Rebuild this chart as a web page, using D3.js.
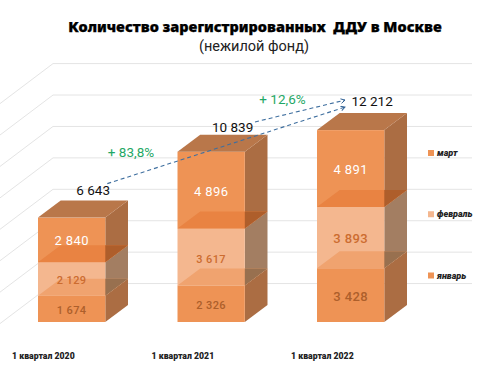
<!DOCTYPE html>
<html>
<head>
<meta charset="utf-8">
<script src="https://cdn.jsdelivr.net/npm/d3@7"></script>
<style>
  html, body { margin: 0; padding: 0; background: #fff; }
  svg { display: block; font-family: Roboto, sans-serif; }
</style>
</head>
<body>
<div id="chart"></div>
<script>
const quarters = ['1 квартал 2020', '1 квартал 2021', '1 квартал 2022'];
const months = ['январь', 'февраль', 'март'];
const january = [1674, 2326, 3428];
const february = [2129, 3617, 3893];
const march = [2840, 4896, 4891];
const totals = [6643, 10839, 12212];
const totalLabels = ['6 643', '10 839', '12 212'];
const gridTicks = [2000, 4000, 6000, 8000, 10000, 12000, 14000, 16000];
const growthLabels = ['+ 83,8%', '+ 12,6%'];

const width = 480;
const height = 369;
const depthX = 22.7;
const depthY = 17;

const colors = { 'январь': '#ee9355', 'февраль': '#f4b78f', 'март': '#ee9355' };
const topColors = { 'январь': '#f0a36f', 'февраль': '#e98342', 'март': '#b9774a' };
const sideColors = { 'январь': '#ab6d43', 'февраль': '#a37e62', 'март': '#ab6d43' };
const labelColors = { 'январь': '#ad5f2b', 'февраль': '#cc6c30', 'март': '#fff' };

const svg = d3.select('#chart').append('svg')
    .attr('width', width)
    .attr('height', height);

// bars sit on y=322, the back wall grid is drawn a bit higher up
const y = d3.scaleLinear().domain([0, 16000]).range([322, 70.6]);
const gridY = d3.scaleLinear().domain([0, 16000]).range([315, 63.6]);
const x = d3.scaleBand().domain(quarters).range([38, 384.3]).paddingInner(0.5176).paddingOuter(0);

const line = d3.line();

// grid
const wallX = 53;
const grid = svg.append('g').attr('fill', 'none').attr('stroke', '#e4e4e4').attr('stroke-width', 1);
grid.selectAll('path.back').data(gridTicks).enter().append('path')
    .attr('class', 'back')
    .attr('d', d => line([[wallX, gridY(d)], [472, gridY(d)]]));
grid.selectAll('path.wall').data(gridTicks).enter().append('path')
    .attr('class', 'wall')
    .attr('d', d => line([[wallX, gridY(d)], [0, gridY(d) + 40]]));

// bars
const stack = d3.stack().keys(months).value((d, key) => d[key]);
const rows = quarters.map((q, i) => ({ quarter: q, 'январь': january[i], 'февраль': february[i], 'март': march[i] }));
const layers = stack(rows);

const bars = svg.append('g');
quarters.forEach((q, i) => {
    const x0 = x(q);
    const x1 = x0 + x.bandwidth();
    const g = bars.append('g');

    layers.forEach(layer => {
        const key = layer.key;
        const y0 = y(layer[i][0]);
        const y1 = y(layer[i][1]);

        // side wall
        g.append('path')
            .attr('d', line([[x1, y0], [x1 + depthX, y0 - depthY], [x1 + depthX, y1 - depthY], [x1, y1]]) + 'Z')
            .attr('fill', sideColors[key]);
        // front
        g.append('rect')
            .attr('x', x0).attr('y', y1)
            .attr('width', x.bandwidth()).attr('height', y0 - y1)
            .attr('fill', colors[key]);
    });

    // top faces of the lower segments, seen through the front
    layers.forEach(layer => {
        const key = layer.key;
        const yt = y(layer[i][1]);
        const path = line([[x0, yt], [x0 + depthX, yt - depthY], [x1 + depthX, yt - depthY], [x1, yt]]) + 'Z';
        g.append('path').attr('d', path).attr('fill', topColors[key]);
        if (key !== 'март') {
            // overlap with the side wall of the next segment
            g.append('path')
                .attr('d', line([[x1, yt], [x1 + depthX, yt - depthY], [x1, yt - depthY]]) + 'Z')
                .attr('fill', key === 'февраль' ? '#ae5e2b' : '#98704f');
        }
    });

    // values, the 2022 bar and the march ones are set larger
    layers.forEach(layer => {
        const key = layer.key;
        const v = layer[i][1] - layer[i][0];
        g.append('text')
            .attr('x', (x0 + x1) / 2)
            .attr('y', y((layer[i][0] + layer[i][1]) / 2) + 5.5)
            .attr('text-anchor', 'middle')
            .attr('font-size', key === 'март' || i === 2 ? 13 : 11)
            .attr('font-weight', key === 'март' ? 400 : 500)
            .attr('letter-spacing', 0.4)
            .attr('fill', labelColors[key])
            .text(d3.format(',')(v).replace(',', ' '));
    });
});

// totals
svg.append('g').selectAll('text').data(quarters).enter().append('text')
    .attr('x', d => x(d) + x.bandwidth() / 2 + 21.5)
    .attr('y', (d, i) => y(totals[i]) - depthY - [6, 3, 7][i])
    .attr('text-anchor', 'middle')
    .attr('font-size', 13.5)
    .attr('fill', '#111')
    .text((d, i) => totalLabels[i]);

// growth arrows
svg.append('defs').append('marker')
    .attr('id', 'arrow')
    .attr('viewBox', '0 0 6 6')
    .attr('refX', 5).attr('refY', 3)
    .attr('markerWidth', 5).attr('markerHeight', 5)
    .attr('orient', 'auto')
    .append('path').attr('d', 'M0.5,0.5L5,3L0.5,5.5').attr('fill', 'none').attr('stroke', '#2f5f93').attr('stroke-width', 1);

const topOf = i => y(totals[i]) - depthY;
const arrows = [
    [[x(quarters[0]) + x.bandwidth() + 2, topOf(0) - 17], [345, topOf(2) - 6]],
    [[255, topOf(1) - 12.7], [345, topOf(2) - 13]]
];
svg.append('g').selectAll('path').data(arrows).enter().append('path')
    .attr('d', d => line(d))
    .attr('fill', 'none')
    .attr('stroke', '#3f6f9f')
    .attr('stroke-width', 1.1)
    .attr('stroke-dasharray', '4 3')
    .attr('marker-end', 'url(#arrow)');

svg.append('g').selectAll('text').data(growthLabels).enter().append('text')
    .attr('x', (d, i) => [131, 282.5][i])
    .attr('y', (d, i) => [157, 103.5][i])
    .attr('text-anchor', 'middle')
    .attr('font-size', 13.5)
    .attr('fill', '#1fa866')
    .text(d => d);

// quarter labels
svg.append('g').selectAll('text').data(quarters).enter().append('text')
    .attr('x', d => x(d) - 26)
    .attr('y', 359)
    .attr('font-size', 8.7)
    .attr('font-weight', 900)
    .attr('fill', '#222')
    .text(d => d);

// legend
const legendY = d3.scalePoint().domain(months).range([275.5, 153]);
const legend = svg.append('g').selectAll('g').data(months).enter().append('g')
    .attr('transform', d => `translate(428,${legendY(d)})`);
legend.append('rect')
    .attr('x', 0).attr('y', -3)
    .attr('width', 6).attr('height', 6)
    .attr('fill', d => colors[d]);
legend.append('text')
    .attr('x', 9).attr('y', 3)
    .attr('font-size', 9)
    .attr('font-weight', 900)
    .attr('font-style', 'italic')
    .attr('fill', '#222')
    .text(d => d);

// title
svg.append('text')
    .attr('x', 255).attr('y', 32)
    .attr('text-anchor', 'middle')
    .attr('font-family', '"Noto Sans", sans-serif')
    .attr('font-size', 14.5)
    .attr('font-weight', 900)
    .attr('fill', '#000')
    .attr('stroke', '#000')
    .attr('stroke-width', 0.25)
    .style('white-space', 'pre')
    .text('Количество зарегистрированных  ДДУ в Москве');
svg.append('text')
    .attr('x', 254).attr('y', 51)
    .attr('text-anchor', 'middle')
    .attr('font-size', 14.5)
    .attr('fill', '#222')
    .text('(нежилой фонд)');
</script>
</body>
</html>
